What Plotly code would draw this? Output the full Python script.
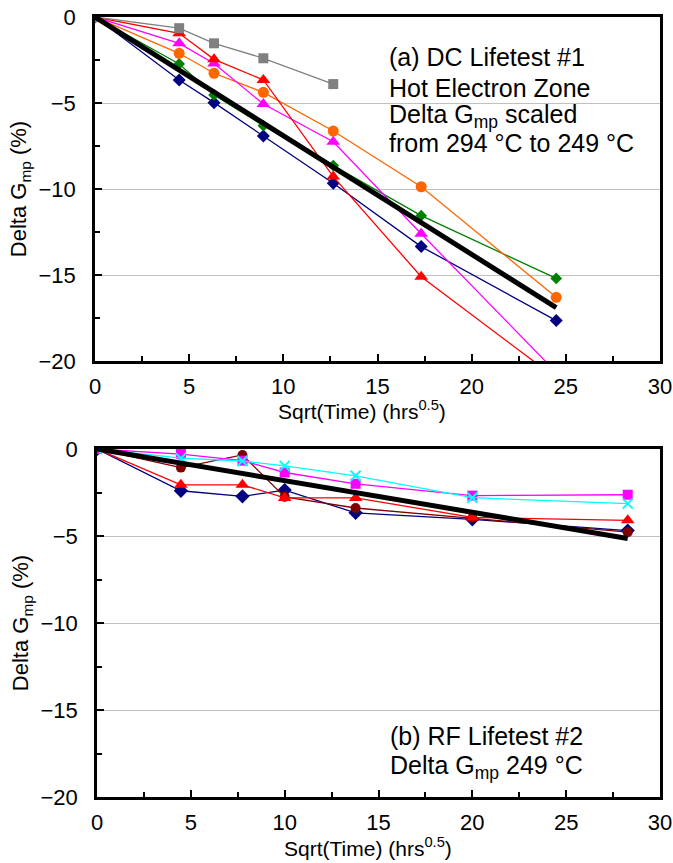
import plotly.graph_objects as go
from plotly.subplots import make_subplots

# ---- Data: (a) DC Lifetest #1 ----
x_a = [0, 4.47, 6.32, 8.94, 12.65, 17.32, 24.49]
navy_a = [0, -3.66, -4.98, -6.92, -9.67, -13.35, -17.65]
green_a = [0, -2.73, -4.53, -6.32, -8.64, -11.55, -15.2]
orange_a = [0, -2.11, -3.27, -4.38, -6.63, -9.87, -16.3]
magenta_a = [0, -1.53, -2.7, -5.06, -7.25, -12.6, -20.66]
red_a = [0, -0.95, -2.46, -3.66, -9.28, -15.1, -21.0]
x_gray_a = [0, 4.47, 6.32, 8.94, 12.65]
gray_a = [0, -0.65, -1.53, -2.4, -3.9]
fit_x_a = [0, 24.49]
fit_a = [0, -16.9]

# ---- Data: (b) RF Lifetest #2 ----
x_b = [0, 4.47, 7.75, 10.0, 13.78, 20.0, 28.28]
navy_b = [0, -2.4, -2.72, -2.36, -3.67, -4.04, -4.69]
red_b = [0, -2.06, -2.06, -2.81, -2.81, -3.93, -4.1]
brown_b = [0, -1.07, -0.34, -2.75, -3.39, -3.97, -4.78]
magenta_b = [0, -0.29, -0.67, -1.35, -2.0, -2.68, -2.63]
cyan_b = [0, -0.53, -0.69, -0.97, -1.54, -2.8, -3.14]
fit_x_b = [0, 28.28]
fit_b = [0, -5.14]

x_ticks = [0, 5, 10, 15, 20, 25, 30]
y_ticks = [0, -5, -10, -15, -20]

FONT = "Liberation Sans, Arial, sans-serif"

fig = make_subplots(rows=2, cols=1)

def add(x, y, color, symbol, size, row, lw=1.3, mline=None):
    marker = dict(color=color, symbol=symbol, size=size)
    if mline:
        marker["line"] = mline
    fig.add_trace(go.Scatter(x=x, y=y, mode="lines+markers",
                             line=dict(color=color, width=lw),
                             marker=marker, showlegend=False, hoverinfo="skip"), row=row, col=1)

# top
add(x_a, navy_a, "#000080", "diamond", 10, 1)
add(x_a, green_a, "#008000", "diamond", 9, 1)
add(x_a, orange_a, "#FF6600", "circle", 11, 1)
add(x_a, magenta_a, "#FF00FF", "triangle-up", 12, 1)
add(x_a, red_a, "#FF0000", "triangle-up", 12, 1)
add(x_gray_a, gray_a, "#808080", "square", 10, 1)
fig.add_trace(go.Scatter(x=fit_x_a, y=fit_a, mode="lines", hoverinfo="skip",
                         line=dict(color="black", width=5), showlegend=False), row=1, col=1)

# bottom
add(x_b, navy_b, "#000080", "diamond", 11, 2)
add(x_b, brown_b, "#800000", "circle", 10, 2)
add(x_b, red_b, "#FF0000", "triangle-up", 12, 2)
add(x_b, magenta_b, "#FF00FF", "square", 10, 2)
add(x_b, cyan_b, "#00FFFF", "x-thin", 10, 2, mline=dict(color="#00FFFF", width=2))
fig.add_trace(go.Scatter(x=fit_x_b, y=fit_b, mode="lines", hoverinfo="skip",
                         line=dict(color="black", width=5), showlegend=False), row=2, col=1)

xaxis_common = dict(range=[0, 30], tickvals=x_ticks, ticks="inside", ticklen=7, tickwidth=1.5,
                    tickcolor="black", showline=True, linecolor="black", linewidth=2.5,
                    mirror=True, showgrid=False, zeroline=False, automargin=False,
                    ticklabeloverflow="allow",
                    minor=dict(dtick=2.5, tick0=0, ticks="inside", ticklen=5, tickcolor="black", showgrid=False),
                    tickfont=dict(family=FONT, size=22, color="black"),
                    ticklabelstandoff=4)
yaxis_common = dict(range=[-20, 0], tickvals=y_ticks, ticks="inside", ticklen=7, tickwidth=1.5,
                    tickcolor="black", showline=True, linecolor="black", linewidth=2.5,
                    mirror=True, showgrid=True, gridcolor="#C0C0C0", gridwidth=1, zeroline=False,
                    automargin=False, ticklabeloverflow="allow",
                    minor=dict(dtick=2.5, tick0=0, ticks="inside", ticklen=5, tickcolor="black", showgrid=False),
                    tickfont=dict(family=FONT, size=22, color="black"),
                    title=dict(text="Delta G<sub>mp</sub> (%)", font=dict(family=FONT, size=22, color="black"),
                               standoff=6),
                    ticklabelstandoff=12)

fig.update_xaxes(**xaxis_common)
fig.update_yaxes(**yaxis_common)

# page body margin is removed in the html (post_script), so the figure fills the window
W, H = 673, 863
PL, PR, PT, PB = 95, 660, 17, 797          # pixel edges of the plotting region
ML, MR = PL, W - PR
MT, MB = PT, H - PB
plot_h = H - MT - MB
plot_w = W - ML - MR

def ydom(top_px, bot_px):
    return [(PB - bot_px) / plot_h, (PB - top_px) / plot_h]

fig.update_yaxes(domain=ydom(17, 361), row=1, col=1)
fig.update_yaxes(domain=ydom(449, 797), row=2, col=1)
fig.update_xaxes(domain=[0, 1], row=1, col=1)
fig.update_xaxes(domain=[2 / plot_w, 1], row=2, col=1)

ann_font = dict(family=FONT, size=25, color="black")
top_lines = [("(a) DC Lifetest #1", -2.35),
             ("Hot Electron Zone", -4.15),
             ("Delta G<sub>mp</sub> scaled", -5.75),
             ("from 294 °C to 249 °C", -7.3)]
for txt, yy in top_lines:
    fig.add_annotation(x=15.5, y=yy, xref="x", yref="y", text=txt, showarrow=False,
                       xanchor="left", yanchor="middle", font=ann_font)
bot_lines = [("(b) RF Lifetest #2", -16.5),
             ("Delta G<sub>mp</sub> 249 °C", -18.25)]
for txt, yy in bot_lines:
    fig.add_annotation(x=15.5, y=yy, xref="x2", yref="y2", text=txt, showarrow=False,
                       xanchor="left", yanchor="middle", font=ann_font)

# x-axis titles
xt_font = dict(family=FONT, size=21, color="black")
xt_x = (362 - PL) / plot_w
fig.add_annotation(x=xt_x, y=(PB - 410) / plot_h, xref="paper", yref="paper",
                   text="Sqrt(Time) (hrs<sup>0.5</sup>)", showarrow=False,
                   xanchor="center", yanchor="middle", font=xt_font)
fig.add_annotation(x=xt_x + 0.01, y=(PB - 847) / plot_h, xref="paper", yref="paper",
                   text="Sqrt(Time) (hrs<sup>0.5</sup>)", showarrow=False,
                   xanchor="center", yanchor="middle", font=xt_font)

fig.update_layout(width=W, height=H, margin=dict(l=ML, r=MR, t=MT, b=MB),
                  plot_bgcolor="white", paper_bgcolor="white", showlegend=False,
                  hovermode=False, font=dict(family=FONT, color="black"))

fig.write_html("out.html", config={"displayModeBar": False},
               post_script="document.body.style.margin='0px';document.body.style.overflow='hidden';")
